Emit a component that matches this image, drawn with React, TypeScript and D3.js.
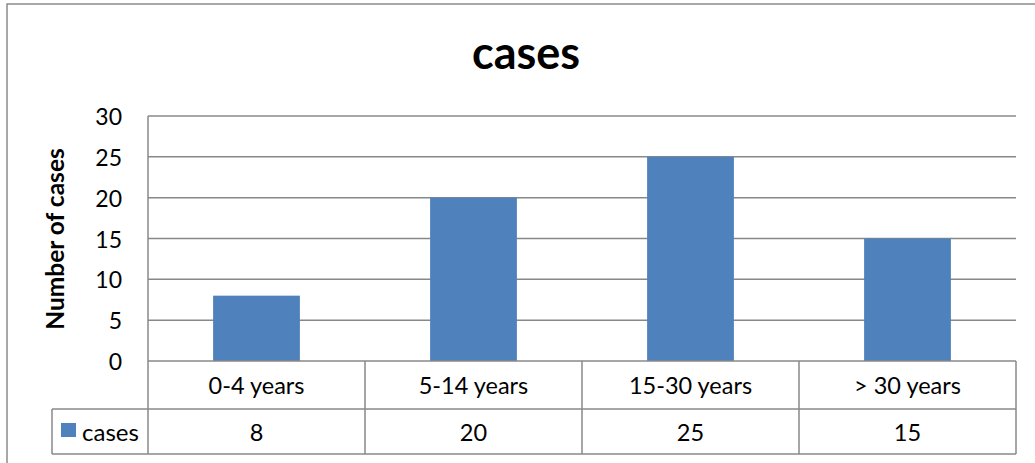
import React from "react";
import * as d3 from "d3";

const categories = ["0-4 years", "5-14 years", "15-30 years", "> 30 years"];
const values = [8, 20, 25, 15];
const yTicks = [0, 5, 10, 15, 20, 25, 30];
const seriesName = "cases";
const title = "cases";
const yTitle = "Number of cases";

export default function App() {
  const W = 1035, H = 463;
  const left = 148, right = 1016, top = 116, bottom = 361;
  const rowMid = 409, rowBot = 454, legendLeft = 52;
  const font = "Lato, 'Open Sans', sans-serif";
  const grid = "#888888";

  const x = d3.scaleBand<string>().domain(categories).range([left, right]).paddingInner(0).paddingOuter(0);
  const y = d3.scaleLinear().domain([0, 30]).range([bottom, top]);
  const bw = x.bandwidth() * 0.4;

  return (
    <svg width={W} height={H} style={{ position: "absolute", left: 0, top: 0, background: "#fff" }}>
      <rect x={7} y={4} width={1100} height={600} fill="#fff" stroke="#8c8c8c" strokeWidth={1.5} />
      <text x={526} y={69} textAnchor="middle" fontFamily={font} fontWeight="bold" fontSize={45} fill="#000">{title}</text>
      {yTicks.map((t) => (
        <g key={t}>
          {t > 0 && <line x1={left} x2={right} y1={y(t)} y2={y(t)} stroke={grid} strokeWidth={1.5} />}
          <text x={122} y={y(t)} textAnchor="end" dominantBaseline="central" fontFamily={font} fontSize={23} fill="#000">{t}</text>
        </g>
      ))}
      <text transform={`translate(64,239) rotate(-90)`} textAnchor="middle" fontFamily={font} fontWeight="bold" fontSize={24.5} fill="#000">{yTitle}</text>
      {categories.map((c, i) => (
        <rect key={c} x={(x(c) as number) + (x.bandwidth() - bw) / 2} y={y(values[i])} width={bw} height={bottom - y(values[i])} fill="#4f81bd" />
      ))}
      {/* table */}
      <line x1={left} x2={left} y1={top} y2={rowBot} stroke={grid} strokeWidth={1.5} />
      <line x1={left} x2={right} y1={bottom} y2={bottom} stroke={grid} strokeWidth={1.5} />
      <line x1={legendLeft} x2={right} y1={rowMid} y2={rowMid} stroke={grid} strokeWidth={1.5} />
      <line x1={legendLeft} x2={right} y1={rowBot} y2={rowBot} stroke={grid} strokeWidth={1.5} />
      <line x1={legendLeft} x2={legendLeft} y1={rowMid} y2={rowBot} stroke={grid} strokeWidth={1.5} />
      {categories.map((c) => (
        <line key={"v" + c} x1={(x(c) as number) + x.bandwidth()} x2={(x(c) as number) + x.bandwidth()} y1={bottom} y2={rowBot} stroke={grid} strokeWidth={1.5} />
      ))}
      {categories.map((c, i) => (
        <g key={"t" + c}>
          <text x={(x(c) as number) + x.bandwidth() / 2} y={(bottom + rowMid) / 2} textAnchor="middle" dominantBaseline="central" fontFamily={font} fontSize={23.5} fill="#000">{c}</text>
          <text x={(x(c) as number) + x.bandwidth() / 2} y={(rowMid + rowBot) / 2} textAnchor="middle" dominantBaseline="central" fontFamily={font} fontSize={23.5} fill="#000">{values[i]}</text>
        </g>
      ))}
      <rect x={61} y={423} width={15} height={14} fill="#4f81bd" />
      <text x={82} y={(rowMid + rowBot) / 2} dominantBaseline="central" fontFamily={font} fontSize={24} fill="#000">{seriesName}</text>
    </svg>
  );
}
